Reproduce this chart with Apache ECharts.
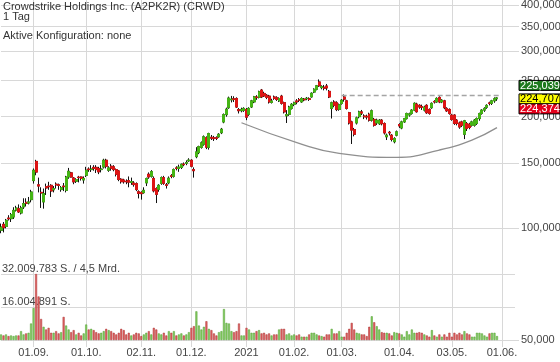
<!DOCTYPE html>
<html><head><meta charset="utf-8">
<script src="https://cdn.jsdelivr.net/npm/echarts@6/dist/echarts.min.js"></script>
<style>html,body{margin:0;padding:0;background:#fff}#c{width:560px;height:362px}</style>
</head><body><div id="c"></div><script>
// ---------- data ----------
const titleText = 'Crowdstrike Holdings Inc. (A2PK2R) (CRWD)';
const periodText = '1 Tag';
const configText = 'Aktive Konfiguration: none';

// trading days per month (categories)
const tradingDays = {
  '2020-08': [13,14,17,18,19,20,21,24,25,26,27,28,31],
  '2020-09': [1,2,3,4,8,9,10,11,14,15,16,17,18,21,22,23,24,25,28,29,30],
  '2020-10': [1,2,5,6,7,8,9,12,13,14,15,16,19,20,21,22,23,26,27,28,29,30],
  '2020-11': [2,3,4,5,6,9,10,11,12,13,16,17,18,19,20,23,24,25,27,30],
  '2020-12': [1,2,3,4,7,8,9,10,11,14,15,16,17,18,21,22,23,24,28,29,30,31],
  '2021-01': [4,5,6,7,8,11,12,13,14,15,19,20,21,22,25,26,27,28,29],
  '2021-02': [1,2,3,4,5,8,9,10,11,12,16,17,18,19,22,23,24,25,26],
  '2021-03': [1,2,3,4,5,8,9,10,11,12,15,16,17,18,19,22,23,24,25,26,29,30,31],
  '2021-04': [1,5,6,7,8,9,12,13,14,15,16,19,20,21,22,23,26,27,28,29,30],
  '2021-05': [3,4,5,6,7,10,11,12,13,14,17,18,19,20,21,24,25,26,27,28],
  '2021-06': [1]
};
const tickDates  = ['2020-09-01','2020-10-01','2020-11-02','2020-12-01','2021-01-04','2021-02-01','2021-03-01','2021-04-01','2021-05-03','2021-06-01'];
const tickLabels = ['01.09.','01.10.','02.11.','01.12.','2021','01.02.','01.03.','01.04.','03.05.','01.06.'];
const priceTicks = [50,100,150,200,250,300,350,400];

const open = [98.8,102.5,101.2,106.6,106.2,107.3,112,113,110,114.2,
117.5,117,119.5,134.5,151.5,131,125,117.8,129.5,130,
130.6,127,131.5,131,127.2,130,126.6,137.5,141.1,136.7,
134,137.4,137.5,135,139,144.5,144,146,146,145,
144,146.3,152.6,143.4,147,146.5,144,142.8,135.6,135,
134,134.5,133,132.5,132,125.5,125,124.8,132.6,139.9,
138.1,136.3,128,127.4,132.2,137,131,132.6,138.6,138.1,
145.5,145,145.9,149,149.8,152,152.6,144,156,160,
165.3,168.5,175.5,165.3,176,175.5,175.5,176.5,181,193.5,
202.5,211.4,222,223.5,223.9,209,207.5,208,209.2,203,
212.4,219.2,226,225.3,235.9,231,228.5,227.2,218.5,226,
225,220.6,227.2,218.2,201,203,210.5,216,220.5,222.5,
219.2,223,223.5,223.5,226.1,233,237,248.1,239.5,240,
242,234,210.5,219,218,209.2,217,226,220.6,205,
193.6,184.6,192.3,200,206,200.8,200.5,203,195.7,196.6,
192.3,191.4,195.7,191.7,176.5,181.5,178.3,171.2,178.3,190.5,
186.4,193.6,197.6,202,204,208.3,216.2,214.6,213,208.3,
214.6,209.2,211.4,219.8,219.1,225.4,219.1,220.6,210.5,209.2,
202,202,195.7,192.3,193.6,179.3,191.7,190.9,189.6,189.6,
191.7,197.6,204,208.3,212,217.8,217.2,220.6,223.5];
const close = [100.8,100.4,105.1,106.1,108.9,111.8,113.4,110.7,113.5,116.6,
116.8,117.8,125.3,143.4,141.8,130,124.5,124.1,128.5,129.5,
126.1,128,131,130.5,128.8,129.5,137.5,142.5,137.5,133.4,
135.4,137,136.3,136.3,143.4,144,144.5,145,144,142,
144.5,152.6,147,145.5,145.2,144,139.9,135.4,133.6,133.5,
133.5,133.2,133.6,131.2,127.2,124.2,124,126.6,136.2,137.5,
142.2,126.2,123.5,130.6,137,132.2,130.6,136.5,138,144,
145,146.3,148.8,148.5,150.4,152.8,147,143,160.7,166,
170,176.5,165.5,180,175,174.5,174.8,179.3,185,202.5,
209.5,224.5,223,222.5,212.3,207.5,209.2,210.5,199.4,210.5,
220.6,226.3,225.3,233.4,226.1,227.5,225.5,219.1,220.5,224,
222.5,223.9,217.3,206,202.5,212.3,216,218,219,221.5,
223.9,222,224.2,222.5,231.3,237,242.2,242.2,241,238.5,
239,226,218,214.5,209,215.4,221.5,223,210.5,192.3,
184,179.3,198.5,206,204.5,199.9,199.5,195.7,207.4,189.6,
195.7,195.7,191.4,180.8,178.3,180.8,173.6,174.7,182,188.8,
193.6,197.6,204,203.5,208.3,217.3,206.2,212.3,212,212.3,
204.9,204,217.2,219.1,224,219.1,221.6,211.4,207.3,204,
196.6,191.7,191.7,187.5,189.6,194.9,185.8,187,193.6,195.7,
197.6,204,208.3,210.5,214.5,217.2,220.6,223.5,224.7];
const low = [97,97.5,100,105,104,106,111,110,109,112.8,
114.5,116,117.5,132,139,125,113.5,113,123,127,
121.5,125,128,127,125.5,126,125,136,137,131.5,
132.5,133,134.5,132,137.5,142,141.9,143,141,140,
141.5,145,145,142,143,142.5,138,134,132,132,
131.5,129,131,129.5,126,120.4,119.5,124,130,136,
137,125,117,125.5,131,131,128,131.5,136.5,137,
143.3,142,144.5,147,148,151,146,137,154.5,158.5,
164,167,163.5,163,173,172,173,175.5,179.5,192,
200,210,218.5,219,211,204,205.5,206,195.7,201,
211,217.5,222,224,224.5,226,223,217,217,222,
220.5,219,215.5,204,192.3,201,209,213.5,216,219,
218,220,221.5,220.5,225,231.5,235.5,240.5,237,235.5,
235.5,224.5,197.7,212,207,207.5,215.5,219.5,209,190.5,
168.8,177,190.5,198,202,197,196.5,194,194,188,
190,190,189.5,179,173,178,171.5,169.5,177,186.5,
185,192.5,196.5,200,202.5,207,205,210,208.5,206.5,
203.5,202.5,210,217,218,217.5,217.5,209.5,206,202.5,
195,190,189.5,185.5,187.5,174,183,185,188,188,
190,195,202.5,206,210,214.5,215,218,220.6];
const high = [103,104,106,108.5,110,114,115,116,115,120.5,
120.5,121.5,127,145,153,137,129,128,132,133.5,
131.5,130,133,132,130,132.5,138.5,145.5,142,137.5,
136.5,138.5,138,138,146.5,146,148,148,148,146.5,
148,154,154,147,149,148,145,143.5,136.5,136,
135.5,138,137,134,133,126.6,125.8,129,137,141.5,
143.5,138,129,131.5,138,138.5,132.5,138,140,145,
147,148.5,149.5,150.5,152.5,154.5,153.5,146,165.5,167,
171.5,178,177,181,178.5,177.5,177,180.5,186.5,204,
211.5,226.5,227.5,227,225.5,211,211.5,212,211,212,
222,227.5,228.5,235,237.5,233.5,230,229,223.5,228,
227,225.5,229,219.5,208.3,214,217.5,219.5,223,224.5,
225.5,224.5,226,225.5,232.5,238.5,243.5,252,243,243.5,
245,236,219.5,221.5,220,217,223,229.5,222,206,
195,186.5,200,207.5,208.5,203,202.5,205,209,198.5,
197.5,197,197,193,180,183,179.5,176,183.5,192,
195,198.5,205,205,209.5,218.5,218,216,215.5,214,
216,210.5,218.5,221.5,225.5,227,223,222,212,210.5,
203.5,203,197,194,195,196,193.5,192.5,195,197,
199,205,209.5,212,216,219.5,222,225.5,226];
// volume in millions of shares
const volume = [2.7,2.2,2.7,1.9,2.2,1.9,2.2,2.2,4.3,2.7,
3.2,3.5,8.0,15.5,32.009783,21.1,10.2,6.4,5.1,5.9,
3.5,3.5,4.3,3.2,3.8,11.2,7.0,5.1,3.8,4.8,
2.7,3.5,2.2,3.2,7.5,5.1,5.4,4.8,3.8,3.2,
3.5,4.3,5.4,4.8,4.3,3.5,2.7,3.5,5.4,4.8,
2.7,3.5,2.2,2.7,3.5,3.2,1.9,2.7,3.5,4.3,
2.7,5.9,5.1,3.2,2.7,3.5,2.2,4.3,3.5,4.3,
2.2,2.7,3.2,2.2,2.7,3.8,5.9,6.7,13.9,7.0,
5.1,6.4,9.1,5.4,4.8,3.2,2.2,3.8,4.3,15.0,
8.3,8.0,4.3,3.8,4.3,8.0,2.2,2.2,5.9,5.1,
3.5,3.5,4.3,4.8,3.2,3.5,2.7,3.2,2.2,2.7,
2.7,5.1,5.4,5.4,2.7,3.2,2.2,2.7,2.2,2.7,
1.6,1.6,1.6,2.7,3.5,3.5,2.7,2.2,1.9,1.6,
2.7,2.7,5.4,3.2,3.2,4.3,1.6,1.6,3.5,5.4,
8.3,5.1,3.5,3.2,2.7,2.7,1.9,6.4,11.5,8.6,
6.7,5.1,3.8,3.5,3.5,3.2,2.2,3.8,3.5,3.2,
2.7,1.6,4.3,2.7,5.1,3.5,3.5,3.8,3.5,2.7,
2.2,1.6,4.8,2.2,1.6,2.7,1.6,2.7,1.6,3.5,
1.6,3.5,2.7,3.5,2.7,4.3,3.2,2.7,1.6,1.6,
3.5,3.5,3.2,2.2,1.6,3.2,3.5,3.5,1.9];
const volumeMax = 32.009783;           // millions, top volume gridline
const turnoverText = '4,5 Mrd.';

// cup annotation (category index, price) and resistance line
const cupIdx   = [96,119,135,158,175,188,198];
const cupPrice = [192.6,169.5,159.3,155.4,162.6,173,186.8];
const resIdx   = [136,199];
const resistance = 228;

// last quote badges
const quoteValues = [225.039, 224.707, 224.374];

// ---------- build ----------
const dates = [];
Object.keys(tradingDays).forEach(m => tradingDays[m].forEach(d => dates.push(m + '-' + String(d).padStart(2,'0'))));
const tickMap = {}; tickDates.forEach((d,k) => tickMap[d] = tickLabels[k]);
const isTick = (idx, val) => tickMap[val !== undefined ? val : dates[idx]] !== undefined;

const FONT = '"Liberation Sans", Arial, sans-serif';
const GRID = '#d8d8d8';
const TXT = '#444';
const UP = '#45b515', DN = '#dd1414';
const VUP = '#86cf63', VUPB = '#4e9a2e', VDN = '#e26464', VDNB = '#a83030';
const fmtPrice = v => Number(v).toFixed(3).replace('.', ',');
const deNum = n => String(n).replace(/\B(?=(\d{3})+(?!\d))/g, '.');

const up = close.map((c,k) => c >= open[k]);
const ohlc = open.map((o,k) => [o, close[k], low[k], high[k]]);
const bodies = open.map((o,k) => [o, close[k], Math.min(o, close[k]), Math.max(o, close[k])]);
const volData = volume.map((v,k) => ({value: v, itemStyle: {color: up[k] ? VUP : VDN, borderColor: up[k] ? VUPB : VDNB}}));
const topPrice = 412.6;

const tStyle = {fontSize: 11, fontWeight: 'normal', color: '#333', fontFamily: FONT, lineHeight: 11};
const option = {
  animation: false,
  textStyle: {fontFamily: FONT},
  title: [
    {text: titleText, left: 3, top: 1, padding: 0, textStyle: tStyle},
    {text: periodText, left: 3, top: 11, padding: 0, textStyle: tStyle},
    {text: configText, left: 3, top: 30, padding: 0, textStyle: tStyle}
  ],
  grid: [
    {left: 1, right: 58, top: 0, bottom: 22, outerBoundsMode: 'none'},
    {left: 1, right: 58, top: 274, bottom: 22, outerBoundsMode: 'none'}
  ],
  xAxis: [
    {type: 'category', gridIndex: 0, data: dates, boundaryGap: false,
     axisLine: {show: false}, axisTick: {show: false}, axisLabel: {show: false},
     splitLine: {show: true, interval: isTick, lineStyle: {color: GRID, width: 1}}},
    {type: 'category', gridIndex: 1, data: dates, boundaryGap: false,
     axisLine: {show: false},
     axisTick: {show: true, interval: isTick, length: 7, lineStyle: {color: GRID}},
     axisLabel: {show: true, interval: isTick, formatter: v => tickMap[v] || '', margin: 7, color: TXT, fontSize: 11, fontFamily: FONT},
     splitLine: {show: false}}
  ],
  yAxis: [
    {type: 'log', gridIndex: 0, position: 'right', min: 50, max: topPrice,
     axisLine: {show: false},
     axisTick: {show: true, length: 17, customValues: priceTicks, lineStyle: {color: GRID}},
     axisLabel: {customValues: priceTicks, margin: 19, formatter: v => fmtPrice(Math.round(v)), color: TXT, fontSize: 11, fontFamily: FONT},
     splitLine: {show: true, lineStyle: {color: GRID, width: 1}}},
    {type: 'value', gridIndex: 1, position: 'left', min: 0, max: volumeMax, interval: volumeMax / 2,
     axisLine: {show: false}, axisTick: {show: false},
     axisLabel: {inside: true, margin: 1, verticalAlign: 'bottom', color: TXT, fontSize: 11, fontFamily: FONT,
       formatter: v => {
         if (v <= 0) return '';
         const s = deNum(Math.floor(v * 1e6 + 1e-6)) + ' S.';
         return v >= volumeMax - 1e-6 ? s + ' / ' + turnoverText : s;
       }},
     splitLine: {show: true, lineStyle: {color: GRID, width: 1}}},
    {type: 'value', gridIndex: 1, position: 'right', min: 0, max: volumeMax, interval: volumeMax / 2,
     axisLine: {show: false}, axisTick: {show: true, length: 13, lineStyle: {color: GRID}},
     axisLabel: {show: false}, splitLine: {show: false}}
  ],
  series: [
    {type: 'candlestick', xAxisIndex: 0, yAxisIndex: 0, data: ohlc, barWidth: 2.5,
     itemStyle: {color: '#111', color0: '#111', borderColor: '#111', borderColor0: '#111', borderWidth: 1}},
    {type: 'candlestick', xAxisIndex: 0, yAxisIndex: 0, data: bodies, barWidth: 2.5,
     itemStyle: {color: UP, color0: DN, borderColor: UP, borderColor0: DN, borderWidth: 1}},
    {type: 'line', xAxisIndex: 0, yAxisIndex: 0, data: cupIdx.map((x,k) => [x, cupPrice[k]]),
     smooth: true, symbol: 'none', lineStyle: {color: '#8f8f8f', width: 1.3}, z: 3},
    {type: 'line', xAxisIndex: 0, yAxisIndex: 0, data: resIdx.map(x => [x, resistance]),
     symbol: 'none', lineStyle: {color: '#a5a5a5', width: 1.5, type: [5, 3]}, z: 3},
    {type: 'bar', xAxisIndex: 1, yAxisIndex: 1, data: volData, barWidth: 2,
     itemStyle: {borderWidth: 0.5}}
  ]
};

const chart = echarts.init(document.getElementById('c'), null, {renderer: 'canvas'});
chart.setOption(option);

// quote badges positioned through the price scale
const py = chart.convertToPixel({yAxisIndex: 0}, quoteValues[1]);
const rightEdge = chart.convertToPixel({xAxisIndex: 0}, dates[dates.length - 1]);
const bx = rightEdge + 17;
const badges = [
  {v: quoteValues[0], bg: '#1d7a1d', fg: '#ffffff', dy: -17.5},
  {v: quoteValues[1], bg: '#ffff00', fg: '#000000', dy: -4},
  {v: quoteValues[2], bg: '#e3001b', fg: '#ffffff', dy: 6}
];
const gfx = [];
badges.forEach(b => {
  gfx.push({type: 'rect', z: 100, shape: {x: bx, y: py + b.dy, width: 41, height: 10},
            style: {fill: b.bg, stroke: '#000', lineWidth: 1}});
  gfx.push({type: 'text', z: 101, x: bx + 21, y: py + b.dy + 5.5,
            style: {text: fmtPrice(b.v), fill: b.fg, font: '11px ' + FONT, textAlign: 'center', textVerticalAlign: 'middle'}});
});
chart.setOption({graphic: gfx});
</script></body></html>
